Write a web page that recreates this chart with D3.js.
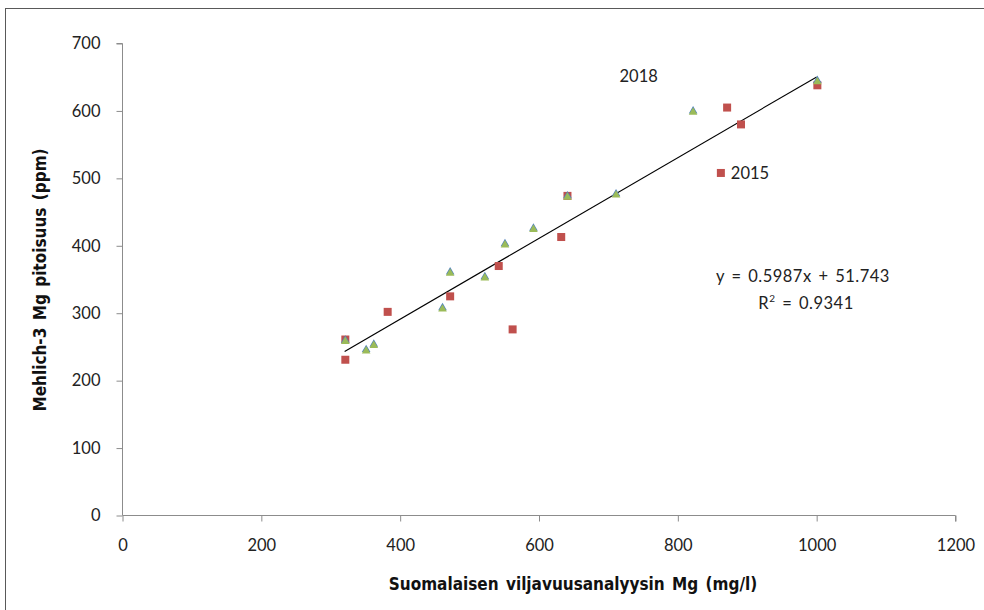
<!DOCTYPE html>
<html lang="fi">
<head>
<meta charset="UTF-8">
<title>Mehlich-3 vs viljavuusanalyysi Mg</title>
<script src="https://d3js.org/d3.v7.min.js"></script>
<style>
    body { margin: 0; background: #fff; }
    svg { display: block; }
    .tick text { font-family: Lato, "Open Sans", sans-serif; font-size: 16.5px; fill: #222; }
    .axis-title { font-family: "Liberation Sans Narrow", "DejaVu Sans Condensed", sans-serif; font-weight: bold; font-size: 17px; fill: #111; }
    .note { font-family: Lato, "Open Sans", sans-serif; font-size: 16.5px; fill: #222; }
    .eq { letter-spacing: 0.5px; word-spacing: 2px; }
</style>
</head>
<body>
<svg width="984" height="610"></svg>
<script>
    // 2015 sarja (punaiset neliot)
    const x2015 = [321, 321, 382, 472, 542, 562, 632, 641, 862, 871, 891, 1001];
    const y2015 = [261, 231, 302, 325, 370, 276, 413, 474, 508, 605, 580, 638];
    // 2018 sarja (vihreat kolmiot)
    const x2018 = [321, 351, 362, 461, 472, 522, 551, 592, 641, 711, 822, 1001];
    const y2018 = [259, 245, 253, 307, 360, 353, 402, 425, 473, 476, 599, 644];

    const xTicks = [0, 200, 400, 600, 800, 1000, 1200];
    const yTicks = [0, 100, 200, 300, 400, 500, 600, 700];

    // trendline
    const slope = 0.5987, intercept = 51.743, r2 = 0.9341;
    const trendRange = [320, 1000];

    const labels2015 = {x: 862, y: 508, text: "2015"};
    const labels2018 = {x: 716, y: 651, text: "2018"};

    const svg = d3.select("svg");

    // chart frame
    svg.append("rect")
        .attr("x", 5.5).attr("y", 8.5)
        .attr("width", 1100).attr("height", 800)
        .attr("fill", "none").attr("stroke", "#595959").attr("stroke-width", 1);

    const x = d3.scaleLinear().domain([0, 1200]).range([122.5, 955.5]);
    const y = d3.scaleLinear().domain([0, 700]).range([515.5, 43.5]);

    // axes
    const xAxis = svg.append("g")
        .attr("transform", "translate(0," + y(0) + ")")
        .call(d3.axisBottom(x).tickValues(xTicks).tickSize(6).tickPadding(18).tickFormat(d3.format("d")));
    const yAxis = svg.append("g")
        .attr("transform", "translate(" + x(0) + ",0)")
        .call(d3.axisLeft(y).tickValues(yTicks).tickSize(6).tickPadding(16).tickFormat(d3.format("d")));

    [xAxis, yAxis].forEach(function (g) {
        g.select(".domain").attr("stroke", "#8c8c8c");
        g.selectAll(".tick line").attr("stroke", "#8c8c8c");
    });
    // axis lines start at origin (no outer tick)
    xAxis.select(".domain").attr("d", "M" + x(0) + ",0H" + x(1200) + "V6");
    yAxis.select(".domain").attr("d", "M-6," + y(700) + "H0V" + y(0));

    // axis titles
    svg.append("text").attr("class", "axis-title")
        .attr("x", 573).attr("y", 590)
        .attr("text-anchor", "middle")
        .attr("word-spacing", "2px")
        .text("Suomalaisen viljavuusanalyysin  Mg (mg/l)");

    svg.append("text").attr("class", "axis-title")
        .attr("transform", "translate(46,280) rotate(-90)")
        .attr("text-anchor", "middle")
        .attr("word-spacing", "2px")
        .text("Mehlich-3 Mg pitoisuus  (ppm)");

    // trendline
    svg.append("line")
        .attr("x1", x(trendRange[0])).attr("y1", y(slope * trendRange[0] + intercept))
        .attr("x2", x(trendRange[1])).attr("y2", y(slope * trendRange[1] + intercept))
        .attr("stroke", "#000").attr("stroke-width", 1.1);

    // 2015 squares
    const d2015 = x2015.map(function (v, i) { return {x: v, y: y2015[i]}; });
    svg.append("g").selectAll("rect")
        .data(d2015).enter().append("rect")
        .attr("x", function (d) { return x(d.x) - 4; })
        .attr("y", function (d) { return y(d.y) - 4; })
        .attr("width", 8).attr("height", 8)
        .attr("fill", "#C0504D");

    // 2018 triangles (blue edge under green fill)
    const d2018 = x2018.map(function (v, i) { return {x: v, y: y2018[i]}; });
    const tri = d3.symbol().type(d3.symbolTriangle).size(32);
    const g18 = svg.append("g");
    g18.selectAll("path.edge")
        .data(d2018).enter().append("path").attr("class", "edge")
        .attr("d", tri)
        .attr("transform", function (d) { return "translate(" + x(d.x) + "," + (y(d.y) - 0.7) + ")"; })
        .attr("fill", "#4F81BD");
    g18.selectAll("path.fill")
        .data(d2018).enter().append("path").attr("class", "fill")
        .attr("d", tri)
        .attr("transform", function (d) { return "translate(" + x(d.x) + "," + (y(d.y) + 0.6) + ")"; })
        .attr("fill", "#9BBB59");

    // data labels
    svg.append("text").attr("class", "note")
        .attr("x", x(labels2015.x) + 10).attr("y", y(labels2015.y))
        .attr("dy", "0.35em")
        .text(labels2015.text);
    svg.append("text").attr("class", "note")
        .attr("x", x(labels2018.x)).attr("y", y(labels2018.y))
        .attr("dy", "0.35em")
        .text(labels2018.text);

    // equation
    const eq = svg.append("text").attr("class", "note eq").attr("text-anchor", "middle");
    eq.append("tspan").attr("x", 803).attr("y", 282)
        .text("y = " + slope + "x + " + intercept);
    const r2line = svg.append("text").attr("class", "note eq").attr("text-anchor", "middle")
        .attr("x", 806).attr("y", 309);
    r2line.append("tspan").text("R");
    r2line.append("tspan").attr("font-size", "10px").attr("dy", "-7").text("2");
    r2line.append("tspan").attr("dy", "7").text(" = " + r2);
</script>
</body>
</html>
